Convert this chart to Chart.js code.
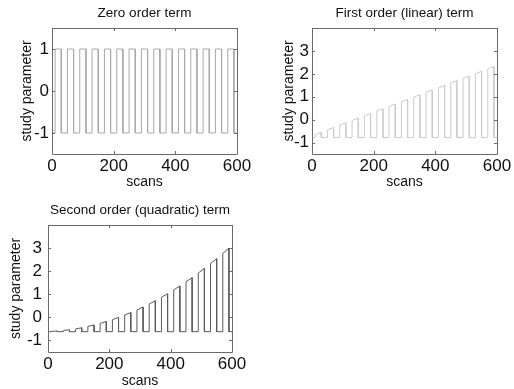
<!DOCTYPE html>
<html>
<head>
<meta charset="utf-8">
<script src="https://cdn.jsdelivr.net/npm/chart.js@4.4.1/dist/chart.umd.min.js"></script>
<style>
  body { margin: 0; background: #fff; }
  #wrap { position: relative; width: 514px; height: 389px; overflow: hidden; }
  canvas { position: absolute; }
</style>
</head>
<body>
<div id="wrap">
  <canvas id="zeroChart" width="257" height="195" style="left:0;top:0"></canvas>
  <canvas id="linearChart" width="257" height="195" style="left:257px;top:0"></canvas>
  <canvas id="quadChart" width="257" height="194" style="left:0;top:195px"></canvas>
</div>
<script>
// Block design regressors

// Axis ticks
const scanTicks = [0, 200, 400, 600];
const zeroTicks = [-1, 0, 1];
const polyTicks = [-1, 0, 1, 2, 3];
const scanRange = [0, 600];

// Block onsets / offsets (scans)
const blockOn = [10, 50, 90, 130, 170, 210, 250, 290, 330, 370, 410, 450, 490, 530, 570];
const blockOff = [30, 70, 110, 150, 190, 230, 270, 310, 350, 390, 430, 470, 510, 550, 590];

// Zero order term
const zeroLow = -1;
const zeroStart = [1, 1, 1, 1, 1, 1, 1, 1, 1, 1, 1, 1, 1, 1, 1];
const zeroEnd = [1, 1, 1, 1, 1, 1, 1, 1, 1, 1, 1, 1, 1, 1, 1];

// First order (linear) term
const linearLow = -0.78;
const linearStart = [-0.65, -0.45, -0.24, -0.04, 0.17, 0.37, 0.58, 0.78, 0.98, 1.19, 1.39, 1.60, 1.80, 2.00, 2.21];
const linearEnd = [-0.55, -0.34, -0.14, 0.07, 0.27, 0.47, 0.68, 0.88, 1.09, 1.29, 1.49, 1.70, 1.90, 2.11, 2.31];

// Second order (quadratic) term
const quadLow = -0.62;
const quadStart = [-0.61, -0.57, -0.50, -0.39, -0.26, -0.10, 0.10, 0.32, 0.58, 0.87, 1.19, 1.54, 1.92, 2.33, 2.77];
const quadEnd = [-0.59, -0.54, -0.45, -0.33, -0.18, 0.00, 0.21, 0.45, 0.72, 1.02, 1.36, 1.72, 2.12, 2.54, 3.00];

const FONT = '"Liberation Sans", Arial, Helvetica, sans-serif';
const TEXT_COLOR = '#111';
const AXIS_COLOR = '#6a6a6a';

function blockPoints(low, starts, ends) {
    const pts = [{ x: scanRange[0], y: low }];
    blockOn.forEach((on, i) => {
        pts.push({ x: on, y: low });
        pts.push({ x: on, y: starts[i] });
        pts.push({ x: blockOff[i], y: ends[i] });
        pts.push({ x: blockOff[i], y: low });
    });
    pts.push({ x: scanRange[1], y: low });
    return pts;
}

// MATLAB style box with inward ticks, plus the title centred over the axes
const boxPlugin = {
    id: 'box',
    afterDraw(chart, args, opts) {
        const ctx = chart.ctx;
        const a = chart.chartArea;
        const xs = chart.scales.x;
        const ys = chart.scales.y;
        const len = 3;
        ctx.save();
        ctx.strokeStyle = AXIS_COLOR;
        ctx.lineWidth = 1;
        ctx.beginPath();
        ctx.rect(Math.round(a.left) + 0.5, Math.round(a.top) + 0.5,
                 Math.round(a.right - a.left), Math.round(a.bottom - a.top));
        xs.ticks.forEach(t => {
            const px = Math.round(xs.getPixelForValue(t.value)) + 0.5;
            ctx.moveTo(px, a.bottom);
            ctx.lineTo(px, a.bottom - len);
            ctx.moveTo(px, a.top);
            ctx.lineTo(px, a.top + len);
        });
        ys.ticks.forEach(t => {
            const py = Math.round(ys.getPixelForValue(t.value)) + 0.5;
            ctx.moveTo(a.left, py);
            ctx.lineTo(a.left + len, py);
            ctx.moveTo(a.right, py);
            ctx.lineTo(a.right - len, py);
        });
        ctx.stroke();

        ctx.fillStyle = TEXT_COLOR;
        ctx.font = '13.5px ' + FONT;
        ctx.textAlign = 'center';
        ctx.textBaseline = 'middle';
        ctx.fillText(opts.text, (a.left + a.right) / 2, opts.y);
        ctx.restore();
    }
};

function makeChart(id, cfg) {
    const ctx = document.getElementById(id).getContext('2d');
    return new Chart(ctx, {
        type: 'line',
        data: {
            datasets: [{
                data: cfg.points,
                borderColor: cfg.color,
                borderWidth: 1,
                pointRadius: 0,
                tension: 0,
                fill: false
            }]
        },
        options: {
            responsive: false,
            animation: false,
            events: [],
            layout: { padding: { left: 0, right: cfg.padRight, top: cfg.plotTop, bottom: 0 } },
            plugins: {
                legend: { display: false },
                tooltip: { enabled: false },
                title: { display: false },
                box: { text: cfg.title, y: cfg.titleY }
            },
            scales: {
                x: {
                    type: 'linear',
                    min: scanRange[0],
                    max: scanRange[1],
                    afterBuildTicks: s => { s.ticks = scanTicks.map(v => ({ value: v })); },
                    afterFit: s => { s.height = cfg.xHeight; },
                    grid: { display: false, drawTicks: false },
                    border: { display: false },
                    ticks: { color: TEXT_COLOR, font: { family: FONT, size: 17 }, padding: 2, maxRotation: 0, autoSkip: false },
                    title: {
                        display: true,
                        text: 'scans',
                        color: TEXT_COLOR,
                        font: { family: FONT, size: 14, lineHeight: 1.1 },
                        padding: { top: 0, bottom: cfg.xTitlePad }
                    }
                },
                y: {
                    type: 'linear',
                    min: cfg.yMin,
                    max: cfg.yMax,
                    afterBuildTicks: s => { s.ticks = cfg.yTicks.map(v => ({ value: v })); },
                    afterFit: s => { s.width = cfg.yWidth; },
                    grid: { display: false, drawTicks: false },
                    border: { display: false },
                    ticks: { color: TEXT_COLOR, font: { family: FONT, size: 17 }, padding: cfg.yTickPad },
                    title: {
                        display: true,
                        text: 'study parameter',
                        color: TEXT_COLOR,
                        font: { family: FONT, size: 14, lineHeight: 1.2 },
                        padding: { top: cfg.yTitlePad, bottom: 0 }
                    }
                }
            }
        },
        plugins: [boxPlugin]
    });
}

makeChart('zeroChart', {
    title: 'Zero order term',
    points: blockPoints(zeroLow, zeroStart, zeroEnd),
    color: '#a8a8a8',
    yMin: -1.5, yMax: 1.5, yTicks: zeroTicks,
    padRight: 20, plotTop: 28, titleY: 13.5,
    xHeight: 41, xTitlePad: 5, yWidth: 52, yTickPad: 3, yTitlePad: 19
});

makeChart('linearChart', {
    title: 'First order (linear) term',
    points: blockPoints(linearLow, linearStart, linearEnd),
    color: '#cbcbcb',
    yMin: -1.5, yMax: 4, yTicks: polyTicks,
    padRight: 17, plotTop: 28, titleY: 13.5,
    xHeight: 41, xTitlePad: 5, yWidth: 55, yTickPad: 3, yTitlePad: 23.6
});

makeChart('quadChart', {
    title: 'Second order (quadratic) term',
    points: blockPoints(quadLow, quadStart, quadEnd),
    color: '#5a5a5a',
    yMin: -1.5, yMax: 4, yTicks: polyTicks,
    padRight: 25, plotTop: 30, titleY: 15.5,
    xHeight: 37, xTitlePad: 0, yWidth: 48, yTickPad: 6, yTitlePad: 7.6
});
</script>
</body>
</html>
